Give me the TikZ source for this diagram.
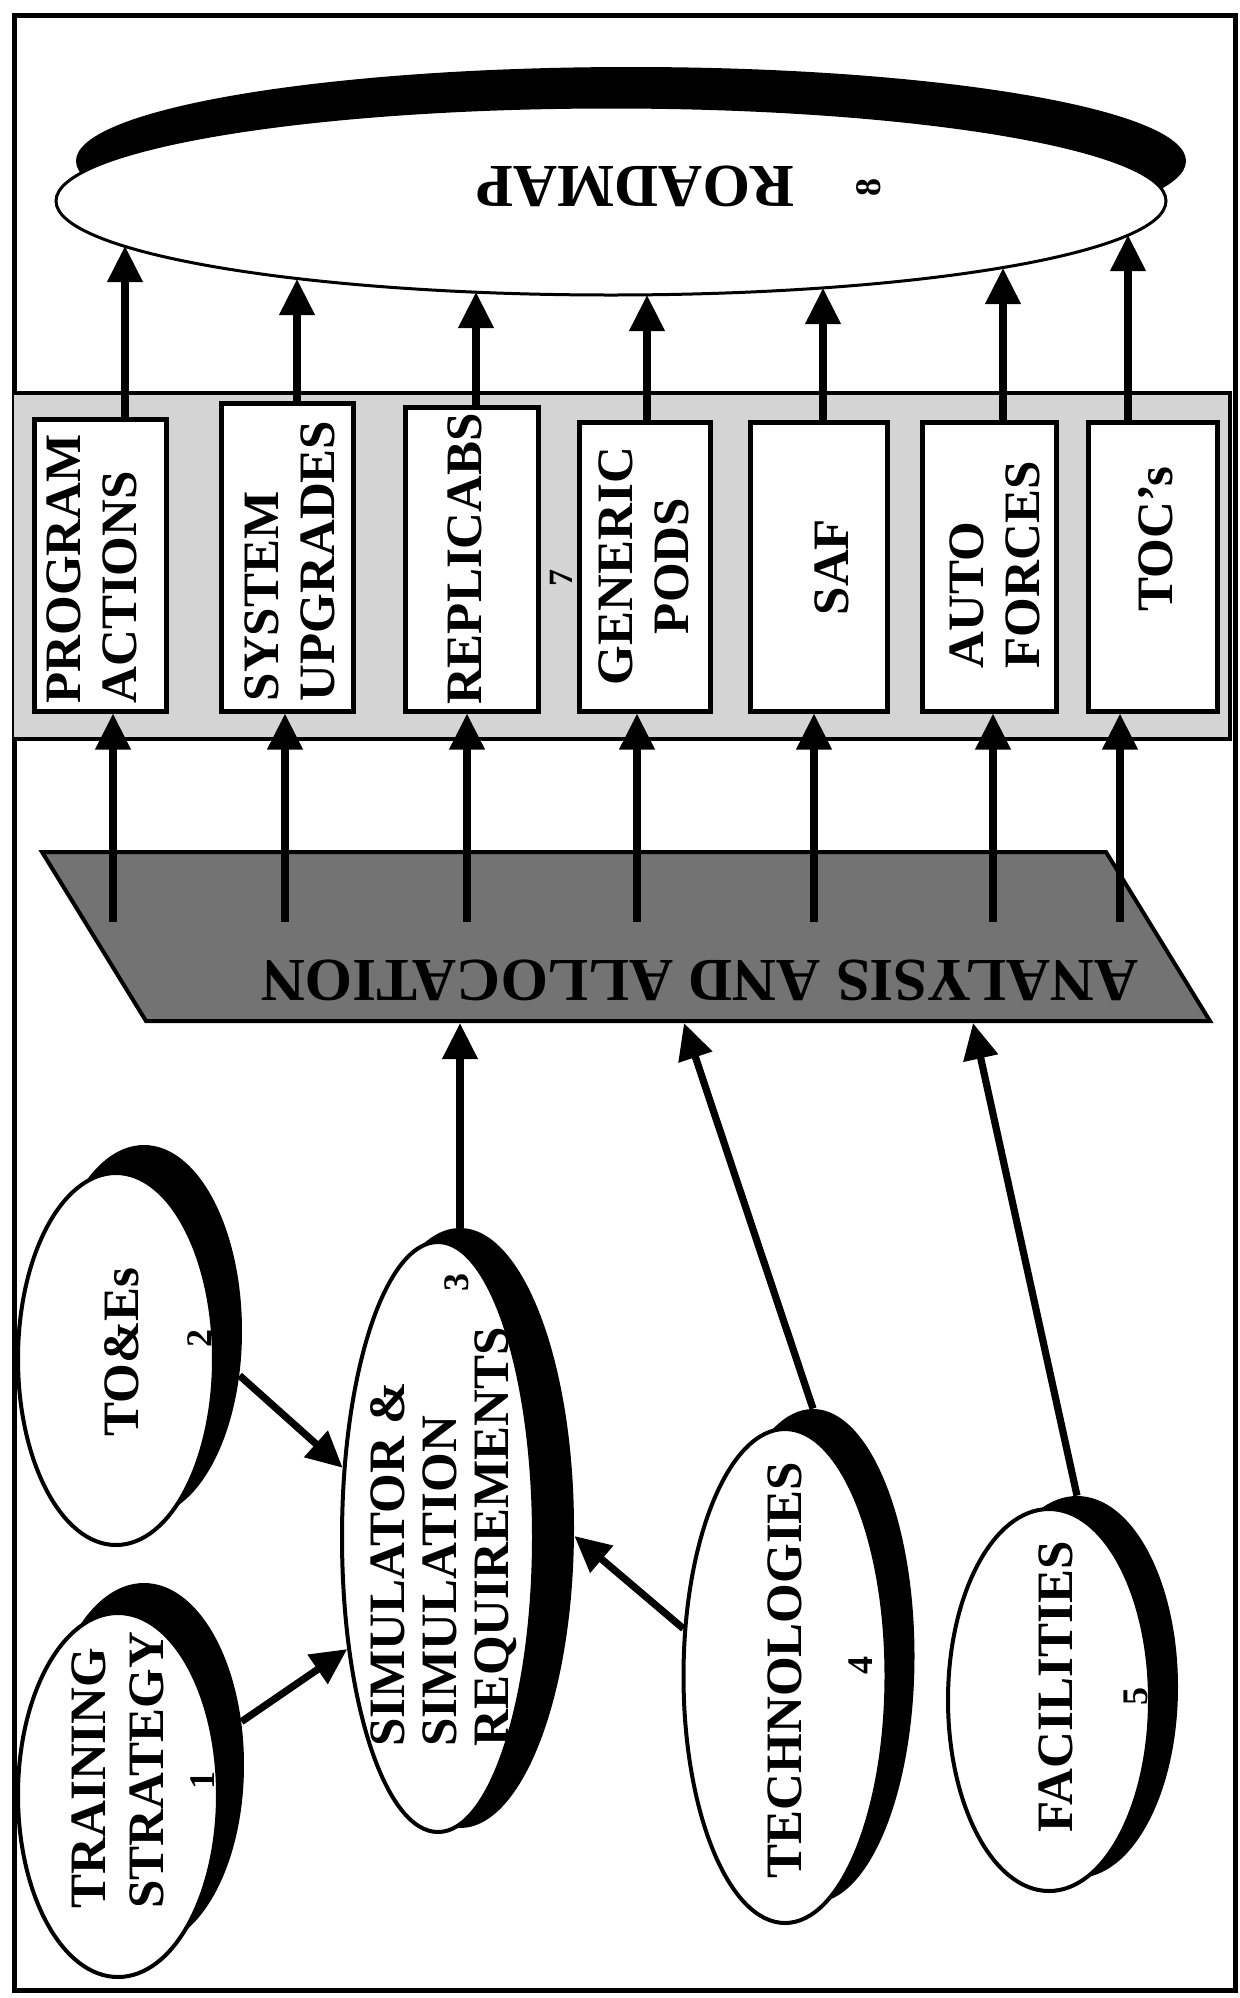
\documentclass[tikz,border=0pt]{standalone}
\usepackage{fontspec}
\setmainfont{Liberation Serif}
\usetikzlibrary{arrows.meta,shapes.geometric}
\begin{document}
\begin{tikzpicture}[x=0.5pt,y=-0.5pt,
  arr/.style={line width=3.6pt,-{Triangle[length=18pt,width=17pt]}},
  shad/.style={ellipse,fill=black,inner sep=0pt},
  oval/.style={ellipse,draw=black,line width=2pt,fill=white,inner sep=0pt},
  box/.style={draw=black,line width=2.5pt,fill=white,inner sep=0pt},
  lbl/.style={font=\bfseries\fontsize{25.5}{28}\selectfont,rotate=90,align=left,inner sep=0pt},
  num/.style={font=\bfseries\fontsize{18}{18}\selectfont,rotate=90,inner sep=0pt},
  big/.style={font=\bfseries\fontsize{30.5}{32}\selectfont,rotate=180,inner sep=0pt},
]
\useasboundingbox (0,0) rectangle (1239,1998);
\fill[white] (0,0) rectangle (1239,1998);
% frame
\draw[line width=2.5pt] (14,15) rectangle (1235,1990);
% panel
\fill[black!17] (14,393) rectangle (1230,739);
\draw[line width=2pt] (14,393) -- (1230,393) -- (1230,739) -- (14,739);
% boxes
\node[box,minimum width=66pt,minimum height=146pt] (pa) at (100,565) {};
\node[box,minimum width=66pt,minimum height=154pt] (pb) at (287,557) {};
\node[box,minimum width=66.5pt,minimum height=152pt] (pc) at (471.5,559) {};
\node[box,minimum width=65.5pt,minimum height=144.5pt] (pd) at (644.5,566.5) {};
\node[box,minimum width=68.5pt,minimum height=144.5pt] (pe) at (818.5,566.5) {};
\node[box,minimum width=67pt,minimum height=144.5pt] (pf) at (989,566.5) {};
\node[box,minimum width=64.5pt,minimum height=144.5pt] (pg) at (1152.5,566.5) {};
\node[lbl] (paT) at (92,569) {PROGRAM\\ACTIONS};
\node[lbl] (pbT) at (290,561) {SYSTEM\\UPGRADES};
\node[lbl] (pcT) at (465,559) {REPLICABS};
\node[lbl,align=center] (pdT) at (644,566) {GENERIC\\PODS};
\node[lbl] (peT) at (832,567) {SAF};
\node[lbl] (pfT) at (995,565) {AUTO\\FORCES};
\node[lbl] (pgT) at (1156,539) {TOC’s};
\node[num,font=\bfseries\fontsize{17}{17}\selectfont] (seven) at (561,578) {7};
% roadmap
\node[shad,minimum width=555pt,minimum height=94pt] (roadS) at (631,161) {};
\node[oval,line width=1.5pt,minimum width=555pt,minimum height=94pt] (road) at (611,201) {};
\node[big] (roadT) at (635,186) {ROADMAP};
\node[num] (eight) at (869,187) {8};
% analysis and allocation
\node[draw=black,line width=2pt,fill=black!55,xslant=-0.615,minimum width=532pt,minimum height=84.5pt,inner sep=0pt] (alloc) at (626,936.5) {};
\node[big] (allocT) at (700,980) {ANALYSIS AND ALLOCATION};
% input ellipses
\node[shad,minimum width=100pt,minimum height=182pt] (trainS) at (144,1765) {};
\node[oval,minimum width=100pt,minimum height=182pt] (train) at (118,1795) {};
\node[shad,minimum width=98pt,minimum height=186pt] (toesS) at (144,1331) {};
\node[oval,minimum width=98pt,minimum height=186pt] (toes) at (116,1359) {};
\node[shad,minimum width=114pt,minimum height=300pt] (simS) at (460,1528) {};
\node[oval,minimum width=96pt,minimum height=295pt] (sim) at (438,1537) {};
\node[shad,minimum width=101.5pt,minimum height=247pt] (techS) at (813,1656) {};
\node[oval,minimum width=101.5pt,minimum height=247pt] (tech) at (785,1676) {};
\node[shad,minimum width=101pt,minimum height=191pt] (facS) at (1077,1687) {};
\node[oval,minimum width=101pt,minimum height=191pt] (fac) at (1049,1700) {};
\node[lbl,font=\bfseries\fontsize{25.5}{29}\selectfont] (trainT) at (118,1770) {TRAINING\\STRATEGY};
\node[num] (trainN) at (203,1780) {1};
\node[lbl] (toesT) at (122,1352) {TO\&Es};
\node[num] (toesN) at (200,1338) {2};
\node[lbl,font=\bfseries\fontsize{25.5}{26}\selectfont] (simT) at (444,1537) {SIMULATOR \&\\SIMULATION\\REQUIREMENTS};
\node[num] (simN) at (457,1282) {3};
\node[lbl] (techT) at (785,1670) {TECHNOLOGIES};
\node[num] (techN) at (861,1665) {4};
\node[lbl] (facT) at (1056,1687) {FACILITIES};
\node[num] (facN) at (1136,1696) {5};
% coordinates
\coordinate (r1) at (125,246);
\coordinate (r2) at (297,279);
\coordinate (r3) at (476,292);
\coordinate (r4) at (647,295);
\coordinate (r5) at (823,288);
\coordinate (r6) at (1003,268);
\coordinate (r7) at (1128,235);
\coordinate (a1) at (113,922);
\coordinate (a2) at (285,922);
\coordinate (a3) at (467,922);
\coordinate (a4) at (637,922);
\coordinate (a5) at (814,922);
\coordinate (a6) at (993,922);
\coordinate (a7) at (1120,922);
\coordinate (t4) at (684,1023);
\coordinate (t5) at (973,1023);
% arrows boxes -> roadmap
\draw[arr] (pa.north -| r1) -- (r1);
\draw[arr] (pb.north -| r2) -- (r2);
\draw[arr] (pc.north -| r3) -- (r3);
\draw[arr] (pd.north -| r4) -- (r4);
\draw[arr] (pe.north -| r5) -- (r5);
\draw[arr] (pf.north -| r6) -- (r6);
\draw[arr] (pg.north -| r7) -- (r7);
% arrows allocation -> boxes
\draw[arr] (a1) -- (a1 |- pa.south);
\draw[arr] (a2) -- (a2 |- pb.south);
\draw[arr] (a3) -- (a3 |- pc.south);
\draw[arr] (a4) -- (a4 |- pd.south);
\draw[arr] (a5) -- (a5 |- pe.south);
\draw[arr] (a6) -- (a6 |- pf.south);
\draw[arr] (a7) -- (a7 |- pg.south);
% inputs
\draw[arr] (trainS.24) -- (sim.231);
\draw[arr] (toesS.-25) -- (sim.144);
\draw[arr] (tech.155) -- (simS.-4);
\draw[arr] (simS.north) -- (simS.north |- alloc.south);
\draw[arr] (techS.north) -- (t4);
\draw[arr] (facS.north) -- (t5);
\end{tikzpicture}
\end{document}
